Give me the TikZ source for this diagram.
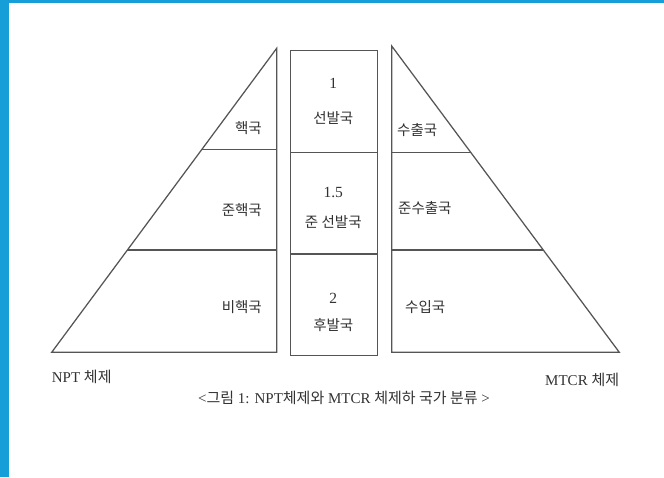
\documentclass[tikz,border=0pt]{standalone}
\usepackage{fontspec}
\setmainfont{Liberation Serif}
\newfontfamily\kr{Noto Sans CJK KR}
\usetikzlibrary{calc}
\definecolor{frameblue}{RGB}{22,158,216}
\definecolor{linegray}{RGB}{85,85,85}
\definecolor{txtgray}{RGB}{50,50,50}
\begin{document}
\begin{tikzpicture}[x=1pt,y=-1pt,
  shapeline/.style={draw=linegray,line width=1.25pt,line join=miter},
  krlabel/.style={inner sep=0pt,text=txtgray,font=\kr\fontsize{14.5}{16}\selectfont},
  numlabel/.style={inner sep=0pt,text=txtgray,font=\fontsize{15.5}{17}\selectfont},
  foot/.style={inner sep=0pt,text=txtgray,font=\fontsize{15}{17}\selectfont},
  midbox/.style={shapeline,minimum width=86.7pt,minimum height=101.7pt,inner sep=0pt,anchor=north west}]
\useasboundingbox (0,0) rectangle (664,477);
\fill[white] (0,0) rectangle (664,477);
\fill[frameblue] (0,0) rectangle (664,3);
\fill[frameblue] (0,0) rectangle (8.7,477);
% left triangle (NPT)
\coordinate (LA) at (276.7,48.3);
\coordinate (LB) at (51.7,352.3);
\coordinate (LC) at (276.7,352.3);
\draw[shapeline] (LA) -- (LB) -- (LC) -- cycle;
\coordinate (L1) at ($(LA)!0.332!(LB)$);
\coordinate (L2) at ($(LA)!0.6635!(LB)$);
\draw[shapeline] (L1) -- (L1 -| LA);
\draw[shapeline] (L2) -- (L2 -| LA);
% right triangle (MTCR)
\coordinate (RA) at (391.7,46);
\coordinate (RB) at (391.7,352.3);
\coordinate (RC) at (619.3,352.3);
\draw[shapeline] (RA) -- (RB) -- (RC) -- cycle;
\coordinate (R1) at ($(RA)!0.347!(RC)$);
\coordinate (R2) at ($(RA)!0.666!(RC)$);
\draw[shapeline] (R1) -- (R1 -| RA);
\draw[shapeline] (R2) -- (R2 -| RA);
% middle boxes
\node[midbox] (m1) at (290,50) {};
\node[midbox] (m2) at (290,151.7) {};
\node[midbox] (m3) at (290,253.4) {};
% left labels
\node[krlabel,anchor=east] (n1) at (262,128) {핵국};
\node[krlabel,anchor=east] (n2) at (262,210) {준핵국};
\node[krlabel,anchor=east] (n3) at (262,307) {비핵국};
% right labels
\node[krlabel,anchor=west] (t1) at (397,130) {수출국};
\node[krlabel,anchor=west] (t2) at (398,208) {준수출국};
\node[krlabel,anchor=west] (t3) at (405,307) {수입국};
% middle labels
\node[numlabel] (c1a) at (333.3,83) {1};
\node[krlabel] (c1b) at (333.3,118) {선발국};
\node[numlabel] (c2a) at (333.3,192) {1.5};
\node[krlabel] (c2b) at (333.3,222) {준 선발국};
\node[numlabel] (c3a) at (333.3,298) {2};
\node[krlabel] (c3b) at (333.3,325) {후발국};
% bottom
\node[foot,anchor=west] (npt) at (51.7,377) {NPT {\kr 체제}};
\node[foot,anchor=east] (mtcr) at (619.3,380) {MTCR {\kr 체제}};
\node[foot] (cap) at (344,398) {<{\kr 그림} 1: NPT{\kr 체제와} MTCR {\kr 체제하 국가 분류} >};
\end{tikzpicture}
\end{document}
